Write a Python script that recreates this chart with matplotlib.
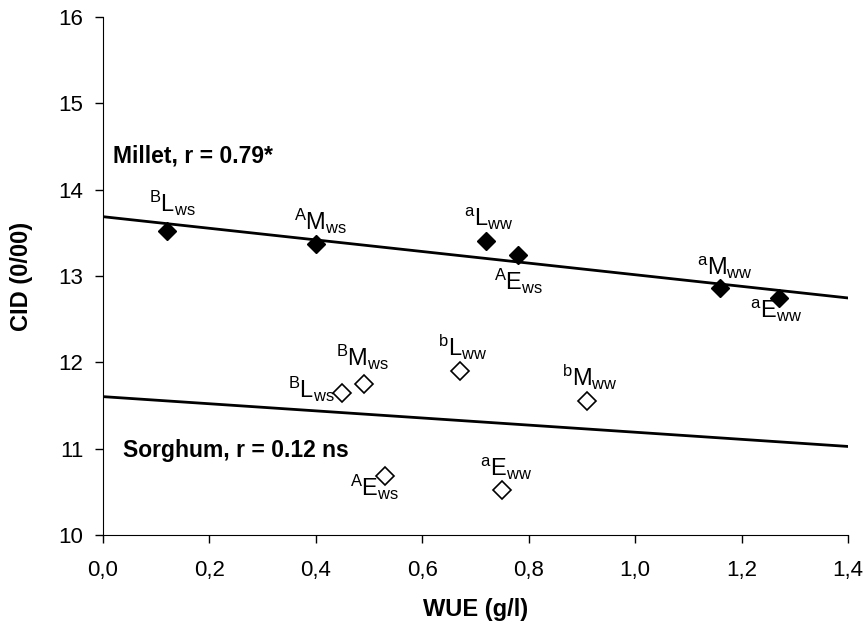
import numpy as np
import matplotlib
matplotlib.use("Agg")
import matplotlib.pyplot as plt

plt.rcParams['font.family'] = ['Liberation Sans', 'DejaVu Sans']
plt.rcParams['mathtext.fontset'] = 'custom'
plt.rcParams['mathtext.rm'] = 'Liberation Sans'
plt.rcParams['mathtext.it'] = 'Liberation Sans'
plt.rcParams['mathtext.default'] = 'regular'

# millet (filled diamonds)
millet_wue = [0.12, 0.40, 0.72, 0.78, 1.16, 1.27]
millet_cid = [13.52, 13.37, 13.40, 13.24, 12.86, 12.74]
millet_labels = [r'$^{B}$L$_{ws}$', r'$^{A}$M$_{ws}$', r'$^{a}$L$_{ww}$',
                 r'$^{A}$E$_{ws}$', r'$^{a}$M$_{ww}$', r'$^{a}$E$_{ww}$']

# sorghum (open diamonds)
sorghum_wue = [0.45, 0.49, 0.67, 0.91, 0.53, 0.75]
sorghum_cid = [11.65, 11.75, 11.90, 11.55, 10.68, 10.52]
sorghum_labels = [r'$^{B}$L$_{ws}$', r'$^{B}$M$_{ws}$', r'$^{b}$L$_{ww}$',
                  r'$^{b}$M$_{ww}$', r'$^{A}$E$_{ws}$', r'$^{a}$E$_{ww}$']

x_ticks = [0.0, 0.2, 0.4, 0.6, 0.8, 1.0, 1.2, 1.4]
y_ticks = [10, 11, 12, 13, 14, 15, 16]

# label offsets in pixels (left edge / baseline relative to the point)
millet_off = [(-18, 19), (-22, 14), (-22, 15), (-24, -35), (-23, 13), (-29, -20)]
sorghum_off = [(-54, -5), (-28, 18), (-22, 15), (-25, 15), (-35, -20), (-22, 14)]

fig = plt.figure(figsize=(8.64, 6.3), dpi=100)
ax = fig.add_axes([103 / 864, 95 / 630, 745 / 864, 518 / 630])

ax.plot(millet_wue, millet_cid, linestyle='none', marker='D', markersize=9.5,
        markerfacecolor='black', markeredgecolor='black', zorder=3)
ax.plot(sorghum_wue, sorghum_cid, linestyle='none', marker='D', markersize=9.5,
        markerfacecolor='white', markeredgecolor='black', markeredgewidth=1.2, zorder=3)

# linear trend lines over the full axis range
xs = np.array([0.0, 1.4])
for wue, cid in [(millet_wue, millet_cid), (sorghum_wue, sorghum_cid)]:
    k, b = np.polyfit(wue, cid, 1)
    ax.plot(xs, k * xs + b, color='black', linewidth=2, zorder=2)

for wue, cid, labs, offs in [(millet_wue, millet_cid, millet_labels, millet_off),
                             (sorghum_wue, sorghum_cid, sorghum_labels, sorghum_off)]:
    for x, y, lab, (dx, dy) in zip(wue, cid, labs, offs):
        ax.annotate(lab, (x, y), xytext=(dx * 0.72, dy * 0.72), textcoords='offset points',
                    ha='left', va='baseline', fontsize=17)

ax.text(0.019, 14.31, 'Millet, r = 0.79*', fontsize=16.5, fontweight='bold',
        ha='left', va='baseline')
ax.text(0.038, 10.90, 'Sorghum, r = 0.12 ns', fontsize=16.5, fontweight='bold',
        ha='left', va='baseline')

ax.set_xlim(0, 1.4)
ax.set_ylim(10, 16)
ax.set_xticks(x_ticks)
ax.set_xticklabels([f'{t:.1f}'.replace('.', ',') for t in x_ticks])
ax.set_yticks(y_ticks)
ax.tick_params(direction='out', length=6, width=1, labelsize=16)
ax.tick_params(axis='x', pad=12)
ax.tick_params(axis='y', pad=8)
ax.spines['top'].set_visible(False)
ax.spines['right'].set_visible(False)

ax.set_xlabel('WUE (g/l)', fontsize=17, fontweight='bold')
ax.set_ylabel('CID (0/00)', fontsize=17, fontweight='bold')
ax.xaxis.set_label_coords(0.5, -0.122)
ax.yaxis.set_label_coords(-0.094, 0.5)

fig.savefig('out.png', dpi=100)
